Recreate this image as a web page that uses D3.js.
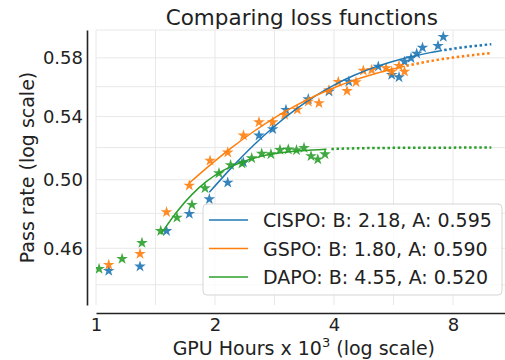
<!DOCTYPE html>
<html>
<head>
<meta charset="utf-8">
<script src="https://cdn.jsdelivr.net/npm/d3@7"></script>
<style>
  body { margin: 0; background: #fff; }
  svg { font-family: "DejaVu Sans", sans-serif; }
</style>
</head>
<body>
<svg id="chart" width="505" height="360"></svg>
<script>
// ticks / grid
const xTicks = [1, 2, 4, 8];
const xGrid = [1, 1.414, 2, 2.828, 4, 5.657, 8];
const yTicks = [0.46, 0.50, 0.54, 0.58];
const yGrid = [0.44, 0.46, 0.48, 0.50, 0.52, 0.54, 0.56, 0.58, 0.60];

// observed runs (GPU hours x 10^3, pass rate)
const cispoX = [1.077, 1.292, 1.508, 1.722, 1.935, 2.154, 2.36, 2.584, 2.799, 3.024, 3.444, 3.885, 4.36, 5.178, 5.598, 5.841, 6.031, 6.264, 6.475, 6.698, 7.331, 7.561];
const cispoY = [0.4475, 0.4499, 0.4698, 0.4797, 0.4883, 0.4983, 0.5106, 0.5277, 0.5318, 0.5444, 0.5515, 0.5567, 0.5635, 0.5739, 0.5681, 0.5665, 0.5774, 0.5798, 0.5830, 0.5873, 0.5885, 0.5950];

const gspoX = [1.077, 1.292, 1.508, 1.722, 1.943, 2.154, 2.361, 2.584, 2.799, 3.0, 3.23, 3.444, 3.665, 3.885, 4.101, 4.315, 4.547, 4.745, 4.982, 5.416, 5.598, 5.841, 6.031];
const gspoY = [0.4508, 0.4569, 0.4807, 0.4965, 0.5118, 0.5169, 0.5277, 0.5363, 0.5363, 0.5411, 0.5446, 0.5499, 0.5489, 0.5576, 0.5633, 0.5571, 0.5631, 0.5711, 0.5716, 0.5728, 0.5704, 0.5744, 0.5704];

const dapoX = [1.018, 1.164, 1.307, 1.458, 1.603, 1.749, 1.887, 2.047, 2.19, 2.34, 2.477, 2.625, 2.77, 2.92, 3.065, 3.215, 3.359, 3.499, 3.64, 3.796];
const dapoY = [0.4486, 0.4541, 0.4630, 0.4698, 0.4775, 0.4850, 0.4949, 0.5040, 0.5090, 0.5100, 0.5133, 0.5162, 0.5158, 0.5185, 0.5188, 0.5183, 0.5198, 0.5146, 0.5126, 0.5158];

// fitted curves (solid) and extrapolation (dotted)
const cispoFitX = [1.935, 2.2, 2.5, 2.8, 3.2, 3.6, 4.0, 4.5, 5.0, 5.6, 6.3, 7.0, 7.5];
const cispoFitY = [0.4924, 0.5073, 0.5213, 0.5327, 0.5448, 0.5540, 0.5611, 0.5678, 0.5728, 0.5773, 0.5810, 0.5837, 0.5852];
const cispoExtX = [7.6, 8.5, 9.3, 10.0];
const cispoExtY = [0.5855, 0.5875, 0.5888, 0.5897];

const gspoFitX = [1.722, 1.9, 2.2, 2.5, 2.8, 3.2, 3.6, 4.0, 4.5, 5.0, 5.5, 6.03];
const gspoFitY = [0.4980, 0.5070, 0.5198, 0.5301, 0.5385, 0.5472, 0.5540, 0.5593, 0.5645, 0.5684, 0.5715, 0.5741];
const gspoExtX = [6.1, 7.0, 8.0, 9.0, 10.0];
const gspoExtY = [0.5745, 0.5777, 0.5802, 0.5820, 0.5833];

const dapoFitX = [1.458, 1.6, 1.75, 1.9, 2.1, 2.35, 2.6, 2.9, 3.3, 3.83];
const dapoFitY = [0.4679, 0.4808, 0.4912, 0.4989, 0.5058, 0.5111, 0.5143, 0.5165, 0.5180, 0.5190];
const dapoExtX = [3.94, 5.0, 7.0, 10.0];
const dapoExtY = [0.5191, 0.5197, 0.5199, 0.5200];

const series = [
  { name: "CISPO: B: 2.18, A: 0.595", color: "#1f77b4", xs: cispoX, ys: cispoY, fx: cispoFitX, fy: cispoFitY, ex: cispoExtX, ey: cispoExtY },
  { name: "GSPO: B: 1.80, A: 0.590", color: "#ff7f0e", xs: gspoX, ys: gspoY, fx: gspoFitX, fy: gspoFitY, ex: gspoExtX, ey: gspoExtY },
  { name: "DAPO: B: 4.55, A: 0.520", color: "#2ca02c", xs: dapoX, ys: dapoY, fx: dapoFitX, fy: dapoFitY, ex: dapoExtX, ey: dapoExtY }
];

const svg = d3.select("#chart");
const plotLeft = 96, plotTop = 30, plotBottom = 305;
const x = d3.scaleLog().base(2).domain([1, 11]).range([plotLeft, plotLeft + 119 * Math.log2(11)]);
const y = d3.scaleLog().domain([0.4293, 0.600]).range([plotBottom, plotTop]);
const plotRight = x.range()[1];

svg.append("clipPath").attr("id", "plot")
  .append("rect").attr("x", plotLeft).attr("y", plotTop)
  .attr("width", plotRight - plotLeft).attr("height", plotBottom - plotTop);

// grid
const grid = svg.append("g").attr("stroke", "#e8e8e8").attr("stroke-width", 1);
grid.selectAll(".gx").data(xGrid).join("line")
  .attr("x1", d => x(d)).attr("x2", d => x(d)).attr("y1", plotTop).attr("y2", plotBottom);
grid.selectAll(".gy").data(yGrid).join("line")
  .attr("x1", plotLeft).attr("x2", plotRight).attr("y1", d => y(d)).attr("y2", d => y(d));

// axes (domain paths act as the offset spines)
const xAxis = svg.append("g").attr("transform", "translate(0,313)")
  .call(d3.axisBottom(x).tickValues(xTicks).tickFormat(d3.format("d")).tickSize(0).tickPadding(5));
const yAxis = svg.append("g").attr("transform", "translate(87,0)")
  .call(d3.axisLeft(y).tickValues(yTicks).tickFormat(d3.format(".2f")).tickSize(0).tickPadding(4));
[xAxis, yAxis].forEach(a => {
  a.select(".domain").attr("stroke", "#222").attr("stroke-width", 1.6);
  a.selectAll("text").attr("font-size", 18).attr("fill", "#222").attr("font-family", "DejaVu Sans");
});

const plot = svg.append("g").attr("clip-path", "url(#plot)");
const star = d3.symbol().type(d3.symbolStar).size(42);
const line = d3.line().x(d => x(d[0])).y(d => y(d[1])).curve(d3.curveMonotoneX);

series.forEach(s => {
  plot.append("g").selectAll("path").data(d3.zip(s.xs, s.ys)).join("path")
    .attr("d", star)
    .attr("transform", d => `translate(${x(d[0])},${y(d[1])})`)
    .attr("fill", s.color).attr("fill-opacity", 0.9);
});
series.forEach(s => {
  plot.append("path").datum(d3.zip(s.fx, s.fy)).attr("d", line)
    .attr("fill", "none").attr("stroke", s.color).attr("stroke-width", 1.5);
  plot.append("path").datum(d3.zip(s.ex, s.ey)).attr("d", line)
    .attr("fill", "none").attr("stroke", s.color).attr("stroke-width", 2.5)
    .attr("stroke-dasharray", "2.5,2.6");
});

// titles
svg.append("text").attr("x", (plotLeft + plotRight) / 2).attr("y", 25).attr("text-anchor", "middle")
  .attr("font-size", 21.5).attr("fill", "#222").text("Comparing loss functions");
const xl = svg.append("text").attr("x", (plotLeft + plotRight) / 2 + 2).attr("y", 355).attr("text-anchor", "middle")
  .attr("font-size", 19).attr("fill", "#222");
xl.append("tspan").text("GPU Hours x 10");
xl.append("tspan").attr("font-size", 13).attr("dy", -8).text("3");
xl.append("tspan").attr("dy", 8).text(" (log scale)");
svg.append("text").attr("transform", `translate(34,${(plotTop + plotBottom) / 2}) rotate(-90)`)
  .attr("text-anchor", "middle").attr("font-size", 19).attr("fill", "#222").text("Pass rate (log scale)");

// legend
const lg = svg.append("g").attr("transform", "translate(203,204)");
lg.append("rect").attr("width", 299).attr("height", 91).attr("rx", 4)
  .attr("fill", "#fff").attr("fill-opacity", 0.8).attr("stroke", "#d5d5d5");
series.forEach((s, i) => {
  const cy = 16 + i * 28.5;
  lg.append("line").attr("x1", 6).attr("x2", 45).attr("y1", cy).attr("y2", cy)
    .attr("stroke", s.color).attr("stroke-width", 1.5);
  lg.append("text").attr("x", 60).attr("y", cy + 7).attr("font-size", 19).attr("fill", "#222").text(s.name);
});
</script>
</body>
</html>
